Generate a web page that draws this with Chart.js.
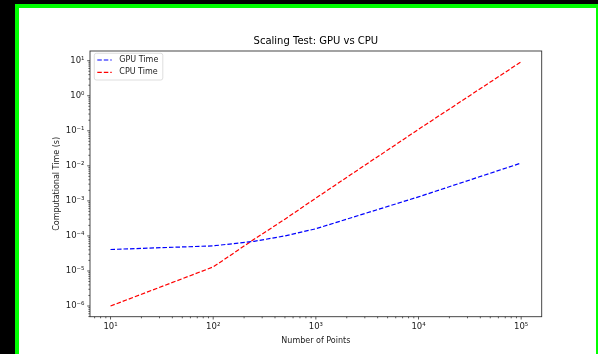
<!DOCTYPE html>
<html>
<head>
<meta charset="utf-8">
<script src="https://cdn.jsdelivr.net/npm/chart.js@4"></script>
<style>
  html, body { margin: 0; padding: 0; background: #000; overflow: hidden; }
  #frame { position: absolute; left: 15px; top: 4px; width: 577px; height: 360px; border: 4px solid #00ff00; background: #fff; }
  #chart { display: block; }
</style>
</head>
<body>
<div id="frame"><canvas id="chart" width="577" height="346"></canvas></div>
<script>
// Values
const numPoints = [10, 100, 250, 500, 1000, 10000, 100000];
const gpuTime = [4.1e-5, 5.2e-5, 7.0e-5, 1.0e-4, 1.6e-4, 1.3e-3, 1.2e-2];
const cpuTime = [1.0e-6, 1.3e-5, 8.0e-5, 3.0e-4, 1.2e-3, 1.1e-1, 9.3];

const xTickValues = [10, 100, 1000, 10000, 100000];
const xTickLabels = ['10¹', '10²', '10³', '10⁴', '10⁵'];
const yTickValues = [1e-6, 1e-5, 1e-4, 1e-3, 1e-2, 1e-1, 1, 10];
const yTickLabels = ['10⁻⁶', '10⁻⁵', '10⁻⁴', '10⁻³', '10⁻²', '10⁻¹', '10⁰', '10¹'];

const xRange = [6.31, 158500];
const yRange = [4.95e-7, 18.9];

const FONT = 'DejaVu Sans';
const TEXT = '#222';

// decade + minor tick positions between lo and hi
function logTicks(lo, hi) {
  const out = [];
  for (let e = Math.floor(Math.log10(lo)); e <= Math.ceil(Math.log10(hi)); e++) {
    for (let m = 1; m < 10; m++) {
      const v = m * Math.pow(10, e);
      if (v >= lo && v <= hi) out.push({ value: v });
    }
  }
  return out;
}

function labelFor(values, labels) {
  return function (v) {
    const i = values.findIndex(t => Math.abs(Math.log10(t) - Math.log10(v)) < 1e-6);
    return i < 0 ? '' : labels[i];
  };
}

function series(ys) {
  return numPoints.map((n, i) => ({ x: n, y: ys[i] }));
}

// spines, tick marks and legend, drawn the matplotlib way
const axesPlugin = {
  id: 'axesBox',
  afterDraw(chart) {
    const ctx = chart.ctx;
    const a = chart.chartArea;
    ctx.save();
    ctx.strokeStyle = '#333';
    ctx.lineWidth = 0.9;
    ctx.strokeRect(a.left, a.top, a.right - a.left, a.bottom - a.top);

    ctx.lineWidth = 0.8;
    chart.scales.x.ticks.forEach(t => {
      const p = chart.scales.x.getPixelForValue(t.value);
      const len = t.label ? 2.8 : 1.6;
      ctx.beginPath();
      ctx.moveTo(p, a.bottom);
      ctx.lineTo(p, a.bottom + len);
      ctx.stroke();
    });
    chart.scales.y.ticks.forEach(t => {
      const p = chart.scales.y.getPixelForValue(t.value);
      const len = t.label ? 2.8 : 1.6;
      ctx.beginPath();
      ctx.moveTo(a.left, p);
      ctx.lineTo(a.left - len, p);
      ctx.stroke();
    });

    // legend, upper left
    const sets = chart.data.datasets;
    ctx.font = '8px "' + FONT + '"';
    const textW = Math.max(...sets.map(d => ctx.measureText(d.label).width));
    const bx = a.left + 4.3, by = a.top + 2.3;
    const bw = 3 + 14.4 + 7.6 + textW + 4.5, bh = 26.7;
    ctx.beginPath();
    ctx.roundRect(bx, by, bw, bh, 2);
    ctx.fillStyle = 'rgba(255,255,255,0.8)';
    ctx.fill();
    ctx.strokeStyle = '#d6d6d6';
    ctx.lineWidth = 0.8;
    ctx.stroke();
    sets.forEach((d, i) => {
      const cy = by + 6.7 + i * 12.3;
      ctx.beginPath();
      ctx.setLineDash(d.borderDash);
      ctx.strokeStyle = d.borderColor;
      ctx.lineWidth = d.borderWidth;
      ctx.moveTo(bx + 3, cy);
      ctx.lineTo(bx + 17.4, cy);
      ctx.stroke();
      ctx.setLineDash([]);
      ctx.fillStyle = TEXT;
      ctx.textBaseline = 'middle';
      ctx.fillText(d.label, bx + 25, cy);
    });
    ctx.restore();
  }
};

new Chart(document.getElementById('chart'), {
  type: 'line',
  data: {
    datasets: [
      {
        label: 'GPU Time',
        data: series(gpuTime),
        borderColor: '#0000ff',
        borderWidth: 1.2,
        borderDash: [4.5, 2],
        pointRadius: 0,
        tension: 0,
        fill: false
      },
      {
        label: 'CPU Time',
        data: series(cpuTime),
        borderColor: '#ff0000',
        borderWidth: 1.2,
        borderDash: [4.5, 2],
        pointRadius: 0,
        tension: 0,
        fill: false
      }
    ]
  },
  options: {
    responsive: false,
    animation: false,
    layout: { padding: { left: 0, right: 54.3, top: 0, bottom: 0 } },
    plugins: {
      legend: { display: false },
      tooltip: { enabled: false },
      title: {
        display: true,
        text: 'Scaling Test: GPU vs CPU',
        fullSize: false,
        color: '#000',
        font: { family: FONT, size: 10, weight: 'normal' },
        padding: { top: 27, bottom: 4 }
      }
    },
    scales: {
      x: {
        type: 'logarithmic',
        min: xRange[0],
        max: xRange[1],
        grid: { display: false, drawTicks: false },
        border: { display: false },
        afterBuildTicks: s => { s.ticks = logTicks(xRange[0], xRange[1]); },
        afterFit: s => { s.height = 37.3; },
        ticks: {
          autoSkip: false,
          maxRotation: 0,
          padding: 4.5,
          color: TEXT,
          font: { family: FONT, size: 8.5 },
          callback: labelFor(xTickValues, xTickLabels)
        },
        title: {
          display: true,
          text: 'Number of Points',
          color: TEXT,
          font: { family: FONT, size: 8 },
          padding: { top: 0, bottom: 8.2 }
        }
      },
      y: {
        type: 'logarithmic',
        min: yRange[0],
        max: yRange[1],
        grid: { display: false, drawTicks: false },
        border: { display: false },
        afterBuildTicks: s => { s.ticks = logTicks(yRange[0], yRange[1]); },
        afterFit: s => { s.width = 71; },
        ticks: {
          autoSkip: false,
          padding: 5.5,
          color: TEXT,
          font: { family: FONT, size: 8.5 },
          callback: labelFor(yTickValues, yTickLabels)
        },
        title: {
          display: true,
          text: 'Computational Time (s)',
          color: TEXT,
          font: { family: FONT, size: 8 },
          padding: { top: 33.5, bottom: 0 }
        }
      }
    }
  },
  plugins: [axesPlugin]
});
</script>
</body>
</html>
